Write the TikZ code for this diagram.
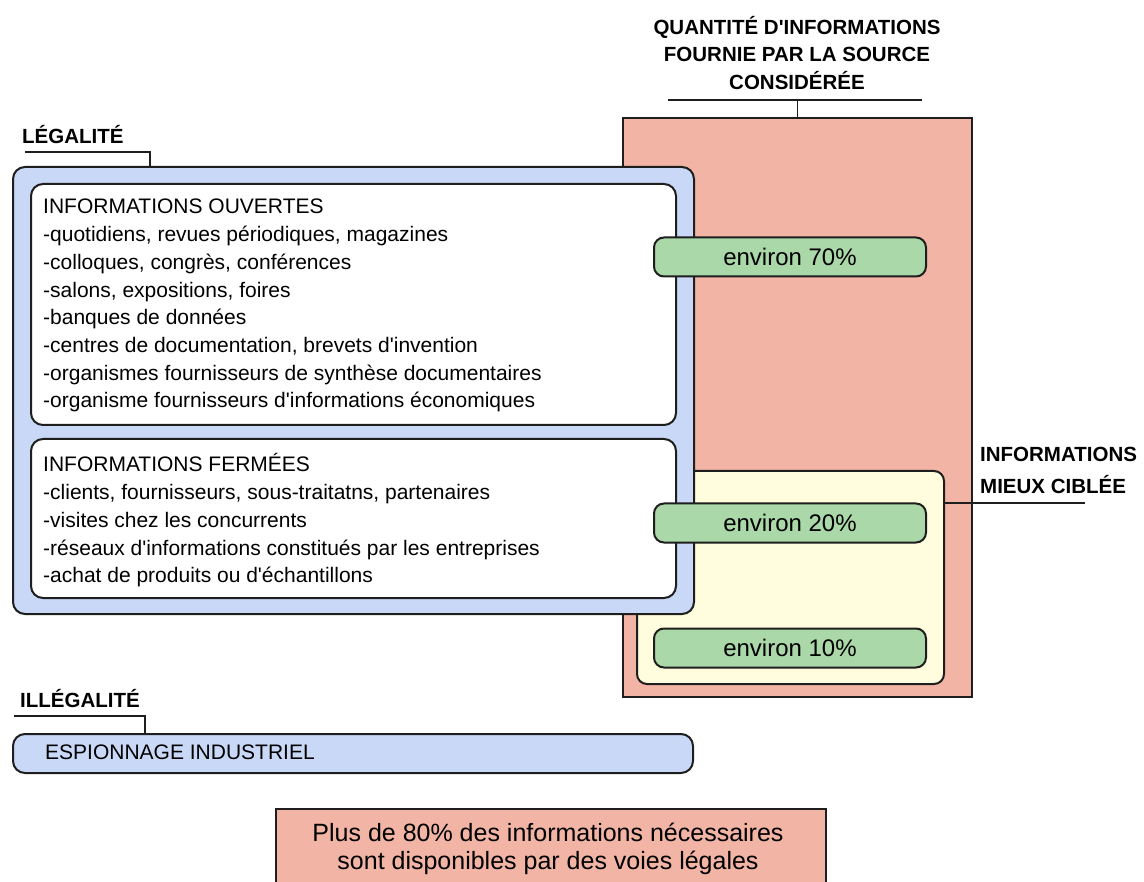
\documentclass[tikz,border=0pt]{standalone}
\usepackage{fontspec}
\setmainfont{Liberation Sans}
\definecolor{salmon}{RGB}{242,180,165}
\definecolor{paleblue}{RGB}{201,216,246}
\definecolor{paleyellow}{RGB}{255,253,221}
\definecolor{palegreen}{RGB}{170,216,168}
\definecolor{edge}{RGB}{30,30,30}
\newcommand{\apos}{\textquotesingle}
\begin{document}
\begin{tikzpicture}[x=1pt,y=-1pt,
  frame/.style={draw=edge, line width=2pt, inner sep=0, anchor=north west},
  roundbox/.style={frame, rounded corners=12pt},
  pill/.style={frame, rounded corners=10pt, fill=palegreen, anchor=center,
    minimum width=272pt, minimum height=39pt, font=\fontsize{24}{28}\selectfont},
  bodytext/.style={font=\fontsize{21}{25}\selectfont, anchor=base west, inner sep=0},
  headtext/.style={font=\bfseries\fontsize{20.5}{25}\selectfont, inner sep=0},
  bracket/.style={draw=edge, line width=1.8pt}]
\useasboundingbox (0,0) rectangle (1144,882);

% source quantity column
\node[frame, fill=salmon, minimum width=349pt, minimum height=579pt] (qty) at (622,117) {};
\node[roundbox, rounded corners=10pt, fill=paleyellow, minimum width=307pt, minimum height=213pt] (target) at (636,470) {};

% legal sources
\node[roundbox, fill=paleblue, minimum width=681pt, minimum height=447pt] (legal) at (12,166) {};
\node[roundbox, fill=white, minimum width=645pt, minimum height=241pt] (open) at (30,183) {};
\node[roundbox, fill=white, minimum width=645pt, minimum height=159pt] (closed) at (30,438) {};

% share of information
\node[pill] (p70) at (790,257) {environ 70\%};
\node[pill] (p20) at (790,523) {environ 20\%};
\node[pill] (p10) at (790,648) {environ 10\%};

% open information list
\foreach \txt [count=\i from 0] in {
  INFORMATIONS OUVERTES,
  {-quotidiens, revues périodiques, magazines},
  {-colloques, congrès, conférences},
  {-salons, expositions, foires},
  -banques de données,
  {-centres de documentation, brevets d\apos invention},
  -organismes fournisseurs de synthèse documentaires,
  -organisme fournisseurs d\apos informations économiques}
  \node[bodytext] (open\i) at (43,214+27.7*\i) {\txt};

% closed information list
\foreach \txt [count=\i from 0] in {
  INFORMATIONS FERMÉES,
  {-clients, fournisseurs, sous-traitatns, partenaires},
  -visites chez les concurrents,
  -réseaux d\apos informations constitués par les entreprises,
  -achat de produits ou d\apos échantillons}
  \node[bodytext] (closed\i) at (43,472+27.7*\i) {\txt};

% headings
\node[headtext, anchor=base] (qt1) at (797,35) {QUANTITÉ D\apos INFORMATIONS};
\node[headtext, anchor=base] (qt2) at (797,62) {FOURNIE PAR LA SOURCE};
\node[headtext, anchor=base] (qt3) at (797,90) {CONSIDÉRÉE};
\coordinate (qtL) at (668,100);
\coordinate (qtR) at (922,100);
\draw[bracket] (qtL) -- (qtR);
\draw[bracket] (qty.north |- qtL) -- (qty.north);

\node[headtext, anchor=base west] (lgl) at (22,144) {LÉGALITÉ};
\coordinate (lgA) at (25,152);
\coordinate (lgB) at (150,152);
\draw[bracket] (lgA) -- (lgB) -- (lgB |- legal.north);

\node[headtext, anchor=base west] (tg1) at (980,462) {INFORMATIONS};
\node[headtext, anchor=base west] (tg2) at (980,494) {MIEUX CIBLÉE};
\coordinate (tgEnd) at (1085,503);
\draw[bracket, line width=1.3pt] (target.east |- tgEnd) -- (tgEnd);

% illegal source
\node[headtext, anchor=base west] (ill) at (20,707) {ILLÉGALITÉ};
\node[roundbox, fill=paleblue, minimum width=680pt, minimum height=39pt] (spy) at (12,733) {};
\node[bodytext] (spytxt) at (45,759.5) {ESPIONNAGE INDUSTRIEL};
\coordinate (ilA) at (14,716);
\coordinate (ilB) at (145,716);
\draw[bracket] (ilA) -- (ilB) -- (ilB |- spy.north);

% conclusion
\begin{scope}
\clip (0,0) rectangle (1144,882);
\node[frame, fill=salmon, minimum width=550pt, minimum height=90pt] (note) at (275,808) {};
\end{scope}
\node[anchor=base, inner sep=0, font=\fontsize{25}{29}\selectfont] (note1) at (548,841) {Plus de 80\% des informations nécessaires};
\node[anchor=base, inner sep=0, font=\fontsize{25}{29}\selectfont] (note2) at (548,869) {sont disponibles par des voies légales};
\end{tikzpicture}
\end{document}
